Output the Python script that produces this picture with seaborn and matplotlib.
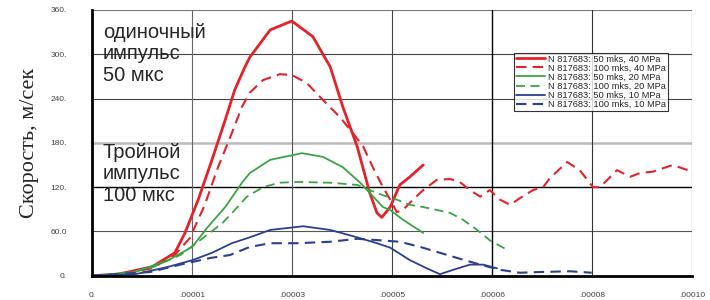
import numpy as np
import pandas as pd
import matplotlib
matplotlib.use("Agg")
import matplotlib.pyplot as plt
import seaborn as sns

# time in microseconds, velocity in m/s
t_red50 = [0, 4.3, 10, 13.8, 15.5, 17.7, 20, 22.2, 23.8, 25.5, 26.3, 29.7, 33.3, 36.8,
           39.7, 41.8, 44.2, 46.3, 47.5, 48.3, 49.7, 51.3, 53, 55.2]
v_red50 = [0, 2, 12, 31, 58, 103, 157, 211, 252, 283, 296, 333, 345, 324,
           283, 229, 175, 112, 85, 79, 93, 123, 134, 150]

t_red100 = [0, 4.7, 10, 13.8, 16.3, 18.8, 21, 23.3, 25, 26.3, 28.5, 31.3, 33.3, 35.8,
            38.5, 41.3, 43.5, 45.2, 46.8, 48.5, 49.7, 50.8, 51.8, 53.5, 55.2, 57.5,
            59.7, 61.3, 63, 64.7, 66.3, 68, 69.7, 71.3, 73.5, 75.2, 76.3, 79.2, 81.3,
            83.5, 84.7, 87.5, 89.7, 91.3, 93.5, 96.8, 100]
v_red100 = [0, 2, 10, 28, 51, 96, 147, 193, 229, 248, 265, 273, 272, 261,
            238, 215, 193, 175, 147, 120, 103, 86, 89, 103, 116, 130,
            131, 127, 116, 107, 116, 103, 96, 105, 116, 120, 132, 154, 143,
            120, 120, 143, 134, 139, 141, 150, 141]

t_green50 = [0, 7.2, 12.7, 16.7, 19.3, 22.2, 25, 26.3, 29.7, 35, 38.5, 41.8, 44.7,
             46.3, 48.5, 49.7, 51.8, 55.2]
v_green50 = [0, 5, 21, 39, 66, 93, 126, 139, 157, 166, 161, 147, 126,
             112, 93, 89, 76, 58]

t_green100 = [0, 4.7, 9.7, 14.7, 18, 21.7, 23.8, 25.8, 28.5, 31.3, 34.2, 39.7, 44.2,
              46.3, 48.5, 50.8, 53, 55.2, 57.5, 59.7, 61.8, 64.2, 66.3, 69.2]
v_green100 = [0, 2, 10, 28, 48, 71, 89, 107, 120, 126, 127, 126, 123,
              116, 109, 103, 96, 93, 89, 85, 76, 62, 48, 35]

t_blue50 = [0, 7.2, 12.7, 16.7, 20, 23.3, 26.3, 29.7, 35.2, 39.7, 44.2, 47.5, 49.7,
            53, 55.8, 58, 60.2, 63, 65.2, 67.5]
v_blue50 = [0, 2, 12, 21, 31, 44, 52, 62, 67, 62, 52, 44, 38,
            21, 10, 2, 8, 15, 15, 10]

t_blue100 = [0, 9.7, 14.7, 19.7, 23, 26.3, 29.7, 34.2, 39.7, 44.2, 48, 51.3, 54.7,
             58, 61.3, 64.7, 68, 71.3, 74.7, 79.7, 83.3]
v_blue100 = [0, 5, 15, 24, 28, 39, 44, 44, 46, 50, 48, 46, 39,
             31, 23, 15, 8, 4, 5, 6, 4]

series_labels = ["N 817683: 50 mks, 40 MPa", "N 817683: 100 mks, 40 MPa",
                 "N 817683: 50 mks, 20 MPa", "N 817683: 100 mks, 20 MPa",
                 "N 817683: 50 mks, 10 MPa", "N 817683: 100 mks, 10 MPa"]

x_ticks = [0, 100 / 6, 200 / 6, 50, 400 / 6, 500 / 6, 100]
x_ticklabels = ["0.", ".00001", ".00003", ".00005", ".00006", ".00008", ".00010"]
y_ticks = [0, 60, 120, 180, 240, 300, 360]
y_ticklabels = ["0.", "60.0", "120.", "180.", "240.", "300.", "360."]

sns.set_style("white")
plt.rcParams["font.family"] = ["Liberation Sans", "DejaVu Sans"]

fig = plt.figure(figsize=(7.1, 3.0), dpi=100)
ax = fig.add_axes([0.1296, 0.081, 0.845, 0.8857])

# grid lines drawn by hand to get the mixed colours of the original
h_grid = {60: ("#555555", 0.8), 120: ("#000000", 1.0), 180: ("#bbbbbb", 1.8),
          240: ("#444444", 0.8), 300: ("#444444", 0.8), 360: ("#777777", 0.8)}
for yv, (c, lw) in h_grid.items():
    ax.axhline(yv, color=c, lw=lw, zorder=0)
v_grid = {x_ticks[1]: ("#666666", 0.8), x_ticks[2]: ("#555555", 0.8),
          x_ticks[3]: ("#444444", 0.8), x_ticks[4]: ("#000000", 1.0),
          x_ticks[5]: ("#333333", 0.8), x_ticks[6]: ("#444444", 0.8)}
for xv, (c, lw) in v_grid.items():
    ax.axvline(xv, color=c, lw=lw, zorder=0)

red, green, blue = "#e32229", "#3aa445", "#2b3f90"
dash = (0, (5, 3))
sns.lineplot(x=t_red50, y=v_red50, ax=ax, color=red, lw=2.0, sort=False,
             estimator=None, label=series_labels[0])
sns.lineplot(x=t_red100, y=v_red100, ax=ax, color=red, lw=1.5, sort=False,
             estimator=None, label=series_labels[1], linestyle=dash)
sns.lineplot(x=t_green50, y=v_green50, ax=ax, color=green, lw=1.3, sort=False,
             estimator=None, label=series_labels[2])
sns.lineplot(x=t_green100, y=v_green100, ax=ax, color=green, lw=1.3, sort=False,
             estimator=None, label=series_labels[3], linestyle=dash)
sns.lineplot(x=t_blue50, y=v_blue50, ax=ax, color=blue, lw=1.3, sort=False,
             estimator=None, label=series_labels[4])
sns.lineplot(x=t_blue100, y=v_blue100, ax=ax, color=blue, lw=1.5, sort=False,
             estimator=None, label=series_labels[5], linestyle=dash)

ax.set_xlim(0, 100)
ax.set_ylim(0, 360)
ax.set_xticks(x_ticks)
ax.set_xticklabels(x_ticklabels, fontsize=6, color="#444444")
ax.set_yticks(y_ticks)
ax.set_yticklabels(y_ticklabels, fontsize=6, color="#444444")
ax.tick_params(axis="y", length=0, pad=18)
ax.tick_params(axis="x", length=0, pad=12)
for s in ["top", "right"]:
    ax.spines[s].set_visible(False)
ax.spines["left"].set_linewidth(2)
ax.spines["bottom"].set_linewidth(2)
ax.spines["left"].set_color("black")
ax.spines["bottom"].set_color("black")

ax.set_ylabel("Скорость, м/сек", family=["Liberation Serif", "DejaVu Serif"],
              fontsize=16, labelpad=8)

ax.text(1.8, 343, "одиночный\nимпульс\n50 мкс", fontsize=14.5, va="top",
        ha="left", linespacing=1.17)
ax.text(1.8, 180, "Тройной\nимпульс\n100 мкс", fontsize=14.5, va="top",
        ha="left", linespacing=1.17)

leg = ax.legend(loc="upper left", bbox_to_anchor=(0.703, 0.84), fontsize=6.7,
                frameon=True, fancybox=False, handlelength=3.2, handletextpad=0.3,
                borderpad=0.2, labelspacing=0.02, borderaxespad=0)
leg.get_frame().set_edgecolor("black")
leg.get_frame().set_linewidth(0.8)

fig.savefig("out.png", dpi=100)
